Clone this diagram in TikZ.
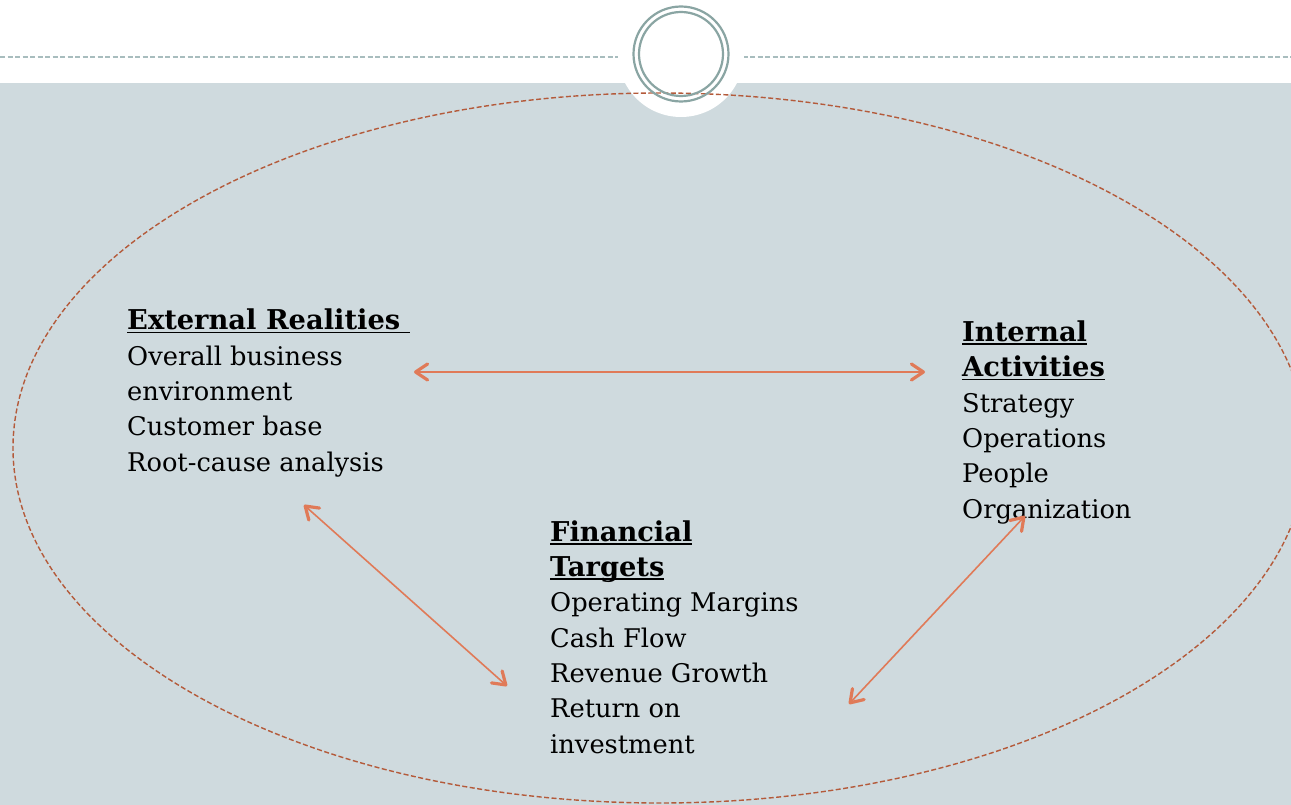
\documentclass[tikz,border=0pt]{standalone}
\usepackage{fontspec}
\setmainfont{DejaVu Serif}
\usetikzlibrary{arrows.meta}

\definecolor{slidebg}{RGB}{207,218,222}
\definecolor{topdash}{RGB}{168,189,190}
\definecolor{ringcol}{RGB}{138,165,163}
\definecolor{ovalcol}{RGB}{180,90,58}
\definecolor{linkcol}{RGB}{224,122,88}

\newcommand{\undertitle}[1]{\setbox0\hbox{\fontsize{27.3}{35.3}\selectfont\bfseries #1}\rlap{\rule[-3.5pt]{\wd0}{1.8pt}}\box0}

\tikzset{
  textblock/.style={anchor=base west, inner sep=0pt, align=left,
    font=\fontsize{25.7}{35.3}\selectfont},
  barb/.tip={Straight Barb[length=12pt, width=16pt, line width=3.2pt 0, round]},
  link/.style={draw=linkcol, line width=1.6pt, barb-barb}
}

\begin{document}
\begin{tikzpicture}[x=1pt,y=1pt,yscale=-1,xscale=1]
\useasboundingbox (0,0) rectangle (1291,805);

%Shape: Background
\fill [white] (0,0) rectangle (1291,805);
%Straight Lines: top rule
\draw [color=topdash, line width=2pt, dash pattern=on 5pt off 2.5pt] (0,57) -- (1291,57);
%Shape: slide body
\fill [slidebg] (0,83) rectangle (1291,805);
%Shape: white disk behind the ring
\fill [white] (681,54) circle (63);
%Shape: dashed oval
\draw [color=ovalcol, line width=1.4pt, dash pattern=on 5pt off 2.5pt] (660,448) ellipse (647 and 355);
%Shape: double ring
\draw [color=ringcol, line width=2.2pt] (681,54) circle (47.5);
\draw [color=ringcol, line width=2.2pt] (681,54) circle (42);

% Text Node (anchored at the last baseline)
\node [textblock] (ext) at (127,471) {\undertitle{External Realities\ }\\Overall business\\environment\\Customer base\\Root-cause analysis};
% Text Node
\node [textblock] (int) at (962,518) {\undertitle{Internal}\\\undertitle{Activities}\\Strategy\\Operations\\People\\Organization};
% Text Node
\node [textblock] (fin) at (550,753) {\undertitle{Financial}\\\undertitle{Targets}\\Operating Margins\\Cash Flow\\Revenue Growth\\Return on\\investment};

% arrow ends
\coordinate (ext-r) at (414,372);
\coordinate (int-l) at (925,372);
\coordinate (ext-b) at (304,505);
\coordinate (fin-l) at (507,686);
\coordinate (int-b) at (1025,516);
\coordinate (fin-r) at (849,704);

%Straight Lines
\draw [link] (ext-r) -- (int-l);
\draw [link] (ext-b) -- (fin-l);
\draw [link] (int-b) -- (fin-r);

\end{tikzpicture}
\end{document}
